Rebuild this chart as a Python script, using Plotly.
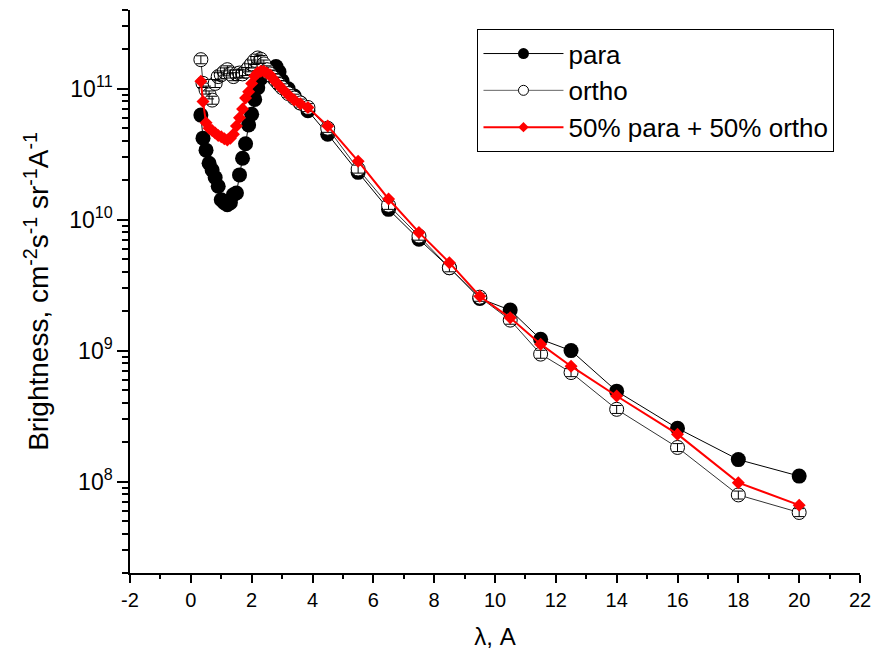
import plotly.graph_objects as go
import math

# wavelength, A
wl = [0.33, 0.4, 0.5, 0.6, 0.7, 0.8, 0.9, 1.0, 1.1, 1.2, 1.3, 1.4, 1.5, 1.6, 1.7,
      1.8, 1.9, 2.0, 2.1, 2.2, 2.3, 2.4, 2.5, 2.6, 2.7, 2.8, 2.9, 3.0, 3.2, 3.4,
      3.6, 3.85, 4.5, 5.5, 6.5, 7.5, 8.5, 9.5, 10.5, 11.5, 12.5, 14, 16, 18, 20]

para = [6.3e10, 4.2e10, 3.4e10, 2.7e10, 2.4e10, 2.1e10, 1.8e10, 1.42e10, 1.35e10, 1.3e10,
        1.35e10, 1.55e10, 1.6e10, 2.2e10, 2.95e10, 3.8e10, 5.3e10, 6.4e10, 8.3e10, 1.02e11,
        1.2e11, 1.27e11, 1.32e11, 1.36e11, 1.42e11, 1.48e11, 1.35e11, 1.15e11, 1.0e11, 8.8e10,
        7.8e10, 6.8e10, 4.5e10, 2.3e10, 1.2e10, 7.1e9, 4.3e9, 2.5e9, 2.04e9, 1.22e9,
        1.0e9, 4.9e8, 2.55e8, 1.47e8, 1.1e8]

ortho = [1.67e11, 1.1e11, 9.8e10, 9.0e10, 8.2e10, 1.1e11, 1.24e11, 1.28e11, 1.35e11, 1.4e11,
         1.3e11, 1.24e11, 1.3e11, 1.32e11, 1.3e11, 1.36e11, 1.45e11, 1.55e11, 1.65e11, 1.72e11,
         1.68e11, 1.55e11, 1.4e11, 1.3e11, 1.22e11, 1.15e11, 1.08e11, 1.02e11, 9.2e10, 8.5e10,
         7.8e10, 7.2e10, 5.0e10, 2.44e10, 1.29e10, 7.5e9, 4.3e9, 2.56e9, 1.71e9, 9.4e8,
         6.8e8, 3.56e8, 1.82e8, 7.9e7, 5.8e7]

mix = [1.14e11, 8.0e10, 5.5e10, 5.0e10, 4.8e10, 4.6e10, 4.4e10, 4.3e10, 4.15e10, 4.07e10,
       4.2e10, 4.5e10, 5.2e10, 6.0e10, 7.0e10, 8.5e10, 9.5e10, 1.1e11, 1.25e11, 1.33e11,
       1.36e11, 1.36e11, 1.32e11, 1.28e11, 1.2e11, 1.12e11, 1.06e11, 1.0e11, 9.0e10, 8.2e10,
       7.7e10, 7.2e10, 5.2e10, 2.8e10, 1.44e10, 8.0e9, 4.7e9, 2.6e9, 1.78e9, 1.12e9,
       7.6e8, 4.5e8, 2.3e8, 9.8e7, 6.6e7]

series_names = ["para", "ortho", "50% para + 50% ortho"]

x_ticks = [-2, 0, 2, 4, 6, 8, 10, 12, 14, 16, 18, 20, 22]
x_ticktext = ["-2", "0", "2", "4", "6", "8", "10", "12", "14", "16", "18", "20", "22"]
y_ticks = [1e8, 1e9, 1e10, 1e11]
y_ticktext = ["10<sup>8</sup>", "10<sup>9</sup>", "10<sup>10</sup>", "10<sup>11</sup>"]

FONT = "Liberation Sans, Arial, sans-serif"

fig = go.Figure()
fig.add_trace(go.Scatter(
    x=wl, y=para, mode="lines+markers", showlegend=False,
    line=dict(color="black", width=1),
    marker=dict(symbol="circle", size=15, color="black"),
))
fig.add_trace(go.Scatter(
    x=wl, y=ortho, mode="lines+markers", showlegend=False,
    line=dict(color="#333333", width=1),
    marker=dict(symbol="circle", size=14, color="white", line=dict(color="black", width=1)),
))
# error bars of ortho drawn above its markers
fig.add_trace(go.Scatter(
    x=wl, y=ortho, mode="markers", showlegend=False, hoverinfo="skip",
    marker=dict(size=1, opacity=0),
    error_y=dict(type="percent", value=7, color="black", thickness=1, width=5),
))
fig.add_trace(go.Scatter(
    x=wl, y=mix, mode="lines+markers", showlegend=False,
    line=dict(color="red", width=2),
    marker=dict(symbol="diamond", size=10, color="red"),
))

# legend entries
fig.add_trace(go.Scatter(
    x=[None], y=[None], name=series_names[0], mode="lines+markers",
    line=dict(color="black", width=1),
    marker=dict(symbol="circle", size=11, color="black"),
))
fig.add_trace(go.Scatter(
    x=[None], y=[None], name=series_names[1], mode="lines+markers",
    line=dict(color="#666666", width=1),
    marker=dict(symbol="circle", size=10, color="white", line=dict(color="black", width=1)),
))
fig.add_trace(go.Scatter(
    x=[None], y=[None], name=series_names[2], mode="lines+markers",
    line=dict(color="red", width=2),
    marker=dict(symbol="diamond", size=8, color="red"),
))

fig.update_layout(
    width=881, height=659,
    margin=dict(l=130, r=14, t=10, b=86),
    paper_bgcolor="white", plot_bgcolor="white",
    font=dict(family=FONT, color="black", size=18),
    showlegend=True,
    legend=dict(
        x=0.476, y=0.966, xanchor="left", yanchor="top",
        bgcolor="white", bordercolor="black", borderwidth=1,
        font=dict(size=26, family=FONT),
        itemwidth=80, tracegroupgap=0,
    ),
    xaxis=dict(
        range=[-2, 22], tickvals=x_ticks, ticktext=x_ticktext,
        showline=True, linecolor="black", linewidth=1.5,
        ticks="outside", ticklen=8, tickwidth=1.5, tickcolor="black",
        minor=dict(dtick=1, tick0=0, ticks="outside", ticklen=4, tickwidth=1.5, tickcolor="black"),
        showgrid=False, zeroline=False,
        tickfont=dict(size=20),
        title=dict(text="λ, A", font=dict(size=24), standoff=18),
    ),
    yaxis=dict(
        type="log", range=[math.log10(2e7), math.log10(4e11)],
        tickvals=y_ticks, ticktext=y_ticktext,
        showline=True, linecolor="black", linewidth=1.5,
        ticks="outside", ticklen=11, tickwidth=1.5, tickcolor="black",
        minor=dict(dtick="D1", ticks="outside", ticklen=6, tickwidth=1.5, tickcolor="black"),
        showgrid=False, zeroline=False,
        tickfont=dict(size=23),
        title=dict(text="Brightness, cm<sup>-2</sup>s<sup>-1</sup> sr<sup>-1</sup>A<sup>-1</sup>",
                   font=dict(size=28), standoff=12),
    ),
)

fig.write_html("out.html")
